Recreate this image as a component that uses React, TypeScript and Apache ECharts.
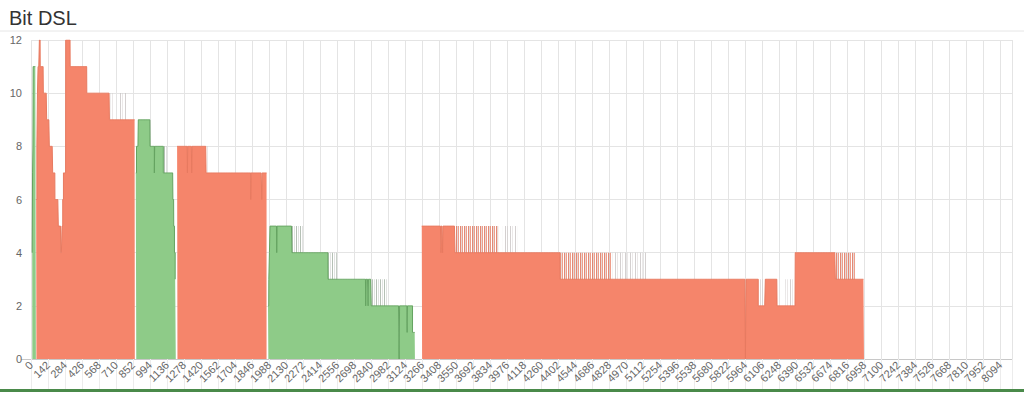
import React, { useEffect, useRef } from "react";
import * as echarts from "echarts";

const TONE_COUNT = 8192;
const LABEL_STEP = 142;
const Y_MIN = 0;
const Y_MAX = 12;
const Y_STEP = 2;

// [firstTone, lastTone, bits]
const upstreamRuns: number[][] = [
  [10, 12, 4], [13, 15, 7], [16, 17, 8], [18, 40, 11],
  [875, 880, 7], [881, 895, 8], [896, 993, 9], [994, 1029, 8], [1030, 1032, 7], [1033, 1104, 8],
  [1105, 1184, 7], [1185, 1191, 6], [1192, 1197, 5], [1198, 1203, 4], [1204, 1208, 3],
  [1979, 1985, 2], [1986, 1990, 3], [1991, 1995, 4], [1996, 2051, 5], [2052, 2054, 4], [2055, 2178, 5],
  [2179, 2480, 4], [2481, 2794, 3], [2795, 2797, 2], [2798, 2814, 3], [2815, 2817, 2], [2818, 2840, 3],
  [2841, 3073, 2], [3074, 3077, 0], [3078, 3140, 2], [3141, 3143, 1], [3144, 3185, 2], [3186, 3205, 1],
];

const downstreamRuns: number[][] = [
  [43, 48, 6], [49, 53, 8], [54, 58, 10], [59, 69, 11], [70, 76, 12], [77, 102, 11], [103, 130, 10],
  [131, 152, 9], [153, 180, 8], [181, 199, 7], [200, 227, 6], [228, 247, 5], [248, 258, 4], [259, 264, 5],
  [265, 270, 6], [271, 289, 7], [290, 326, 12], [327, 465, 11], [466, 654, 10], [655, 866, 9],
  [1220, 1305, 8], [1306, 1308, 7], [1309, 1341, 8], [1342, 1344, 7], [1345, 1461, 8], [1462, 1834, 7],
  [1835, 1837, 6], [1838, 1926, 7], [1927, 1930, 6], [1931, 1966, 7],
  [3263, 3422, 5], [3423, 3425, 4], [3426, 3436, 5], [3437, 3439, 4], [3440, 3540, 5], [3541, 4418, 4],
  [4419, 5965, 3], [5966, 5970, 0], [5971, 6072, 3], [6073, 6131, 2], [6132, 6229, 3], [6230, 6381, 2],
  [6382, 6716, 4], [6717, 6955, 3],
];

// tones that toggle between two bit values (drawn as a hatched band above the stable level)
const downstreamToggleDense: number[][] = [
  [3541, 3900, 5], [4419, 4854, 4], [6717, 6884, 4],
];
const downstreamToggleLight: number[][] = [
  [665, 690, 10], [735, 800, 10], [1462, 1490, 8], [3940, 4060, 5], [4855, 5146, 4],
  [5436, 5438, 4], [6090, 6131, 3], [6300, 6375, 3],
];
const upstreamToggle: number[][] = [
  [994, 1010, 9], [1105, 1140, 8], [2179, 2275, 5], [2481, 2556, 4], [2841, 2980, 3],
];

const categories: string[] = Array.from({ length: TONE_COUNT }, (_, i) => String(i));

function expand(runs: number[][]): (number | string)[] {
  const out: (number | string)[] = new Array(TONE_COUNT).fill("-");
  for (const [a, b, v] of runs) {
    for (let i = a; i <= b; i++) out[i] = v;
  }
  return out;
}

const FONT = "'Liberation Sans', Arial, Helvetica, sans-serif";

// vertical hair-line texture for toggling tones
function stripes(colors: string[]): any {
  const c = document.createElement("canvas");
  c.width = colors.length;
  c.height = 2;
  const ctx = c.getContext("2d")!;
  colors.forEach((col, i) => {
    ctx.fillStyle = col;
    ctx.fillRect(i, 0, 1, 2);
  });
  return { image: c, repeat: "repeat" };
}

function stepArea(name: string, runs: number[][], fill: any, stroke: string, strokeWidth: number, z: number) {
  return {
    name,
    type: "line",
    step: "middle",
    data: expand(runs),
    showSymbol: false,
    symbol: "none",
    connectNulls: false,
    z,
    lineStyle: { color: stroke, width: strokeWidth },
    itemStyle: { color: typeof fill === "string" ? fill : stroke },
    areaStyle: { color: fill, opacity: 1 },
    emphasis: { disabled: true },
    silent: true,
  };
}

export default function App() {
  const ref = useRef<HTMLDivElement>(null);
  useEffect(() => {
    if (!ref.current) return;
    const chart = echarts.init(ref.current, null, { renderer: "svg" });
    const usHatch = stripes([
      "rgba(120,140,120,0.55)", "rgba(0,0,0,0)", "rgba(170,175,170,0.35)", "rgba(0,0,0,0)",
    ]);
    const dsDenseHatch = stripes([
      "rgba(225,115,92,0.85)", "rgba(200,170,165,0.45)", "rgba(232,125,100,0.75)", "rgba(0,0,0,0)",
    ]);
    const dsLightHatch = stripes([
      "rgba(160,150,150,0.45)", "rgba(0,0,0,0)", "rgba(190,180,180,0.3)", "rgba(0,0,0,0)", "rgba(0,0,0,0)",
    ]);
    chart.setOption({
      animation: false,
      backgroundColor: "#ffffff",
      textStyle: { fontFamily: FONT },
      title: {
        text: "Bit DSL",
        left: 4,
        top: 3,
        textStyle: { fontSize: 20, fontWeight: "normal", color: "#333", fontFamily: FONT },
      },
      grid: { left: 31, right: 12, top: 40, bottom: 35, containLabel: false },
      xAxis: {
        type: "category",
        data: categories,
        boundaryGap: true,
        axisLine: { show: true, lineStyle: { color: "#c8c8c8" } },
        axisTick: { show: true, interval: LABEL_STEP - 1, length: 30, lineStyle: { color: "#ececec" } },
        axisLabel: {
          interval: LABEL_STEP - 1,
          rotate: 45,
          fontSize: 11,
          color: "#666",
          margin: 4,
          fontFamily: FONT,
        },
        splitLine: { show: true, interval: LABEL_STEP - 1, lineStyle: { color: "#e4e4e4" } },
      },
      yAxis: {
        type: "value",
        min: Y_MIN,
        max: Y_MAX,
        interval: Y_STEP,
        axisLine: { show: false },
        axisTick: { show: false },
        axisLabel: { fontSize: 11, color: "#666", margin: 9, fontFamily: FONT },
        splitLine: { lineStyle: { color: "#e4e4e4" } },
      },
      graphic: [
        { type: "line", shape: { x1: 0, y1: 31, x2: 1024, y2: 31 }, style: { stroke: "#e6e6e6", lineWidth: 1 } },
        { type: "line", shape: { x1: 21, y1: 359.5, x2: 31, y2: 359.5 }, style: { stroke: "#c8c8c8", lineWidth: 1 } },
        { type: "rect", shape: { x: 0, y: 389, width: 1024, height: 3 }, style: { fill: "#4a8a4a" } },
      ],
      series: [
        stepArea("US toggle", upstreamToggle, usHatch, "rgba(0,0,0,0)", 0, 1),
        stepArea("DS toggle dense", downstreamToggleDense, dsDenseHatch, "rgba(0,0,0,0)", 0, 1),
        stepArea("DS toggle light", downstreamToggleLight, dsLightHatch, "rgba(0,0,0,0)", 0, 1),
        stepArea("Upstream", upstreamRuns, "#8ecb88", "#65a361", 1, 2),
        stepArea("Downstream", downstreamRuns, "#f5856b", "#e77a60", 1, 2),
      ],
    });
    return () => chart.dispose();
  }, []);
  return (
    <div
      ref={ref}
      style={{ position: "fixed", left: 0, top: 0, width: 1024, height: 394, background: "#fff" }}
    />
  );
}
